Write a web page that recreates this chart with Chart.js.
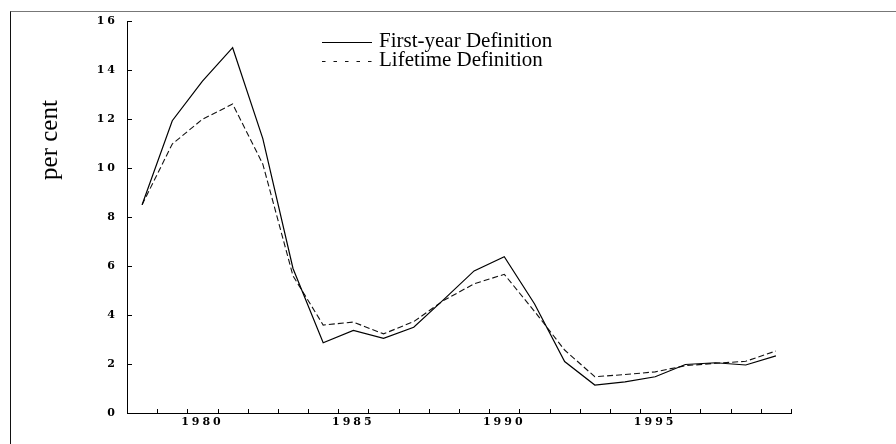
<!DOCTYPE html>
<html>
<head>
<meta charset="utf-8">
<script src="https://cdn.jsdelivr.net/npm/chart.js@4.4.1/dist/chart.umd.min.js"></script>
<style>
  html, body { margin: 0; padding: 0; background: #fff; }
  #wrap { position: relative; width: 896px; height: 444px; }
  #frame { position: absolute; left: 10px; top: 11px; right: 0; bottom: 0;
           border-left: 1px solid #111; border-top: 1px solid #777; pointer-events: none; }
  canvas { position: absolute; left: 0; top: 0; }
</style>
</head>
<body>
<div id="wrap">
  <canvas id="c" width="896" height="444"></canvas>
  <div id="frame"></div>
</div>
<script>
// ---- data ----
const years = ['1978','1979','1980','1981','1982','1983','1984','1985','1986','1987','1988',
               '1989','1990','1991','1992','1993','1994','1995','1996','1997','1998','1999'];
const firstYear = [8.5, 11.93, 13.55, 14.91, 11.2, 5.9, 2.87, 3.37, 3.05, 3.5, 4.64,
                   5.8, 6.38, 4.46, 2.1, 1.14, 1.27, 1.48, 1.98, 2.05, 1.96, 2.33];
const lifetime  = [8.5, 10.98, 11.99, 12.61, 10.16, 5.6, 3.59, 3.71, 3.23, 3.73, 4.6,
                   5.27, 5.66, 4.15, 2.57, 1.48, 1.57, 1.68, 1.93, 2.03, 2.11, 2.53];
const shownYearLabels = ['1980','1985','1990','1995'];
const yMin = 0, yMax = 16, yStep = 2;
const seriesNames = ['First-year Definition', 'Lifetime Definition'];
const yTitle = 'per cent';

const TICK_FONT = { family: 'DejaVu Serif', size: 11, weight: 'bold' };

const decorPlugin = {
  id: 'decor',
  beforeDraw(chart) {
    chart.ctx.letterSpacing = '3px';
  },
  afterDraw(chart) {
    const ctx = chart.ctx;
    ctx.save();
    ctx.letterSpacing = '0px';
    const xs = chart.scales.x, ys = chart.scales.y;
    const bottom = chart.chartArea.bottom, left = chart.chartArea.left;
    ctx.strokeStyle = '#000';
    ctx.lineWidth = 1;
    ctx.setLineDash([]);
    // inward x ticks at year boundaries
    const n = years.length;
    for (let k = 1; k <= n; k++) {
      const px = Math.round(xs.getPixelForDecimal(k / n)) + 0.5;
      ctx.beginPath(); ctx.moveTo(px, bottom); ctx.lineTo(px, bottom - 4); ctx.stroke();
    }
    // inward y ticks
    ys.ticks.forEach(t => {
      const py = Math.round(ys.getPixelForValue(t.value)) + 0.5;
      ctx.beginPath(); ctx.moveTo(left, py); ctx.lineTo(left + 5, py); ctx.stroke();
    });
    // y title
    ctx.save();
    ctx.fillStyle = '#000';
    ctx.font = '25px "Liberation Serif"';
    ctx.translate(57, 140);
    ctx.rotate(-Math.PI / 2);
    ctx.textAlign = 'center';
    ctx.textBaseline = 'alphabetic';
    ctx.fillText(yTitle, 0, 0);
    ctx.restore();
    // legend
    const ds = chart.data.datasets;
    const rows = [
      { y: 42, ty: 47, dash: [] },
      { y: 61, ty: 66, dash: [3.5, 8] }
    ];
    ctx.font = '21px "Liberation Serif"';
    ctx.textAlign = 'left';
    ctx.textBaseline = 'alphabetic';
    ctx.fillStyle = '#000';
    ds.forEach((d, i) => {
      const r = rows[i];
      ctx.strokeStyle = d.borderColor;
      ctx.lineWidth = 1.2;
      ctx.setLineDash(r.dash);
      ctx.beginPath(); ctx.moveTo(322, r.y + 0.5); ctx.lineTo(372, r.y + 0.5); ctx.stroke();
      ctx.setLineDash([]);
      ctx.fillText(d.label, 379, r.ty);
    });
    ctx.restore();
  }
};

new Chart(document.getElementById('c'), {
  type: 'line',
  data: {
    labels: years,
    datasets: [
      { label: seriesNames[0], data: firstYear, borderColor: '#000', borderWidth: 1.2,
        pointRadius: 0, tension: 0, fill: false },
      { label: seriesNames[1], data: lifetime, borderColor: '#111', borderWidth: 1.1,
        borderDash: [6, 3], pointRadius: 0, tension: 0, fill: false }
    ]
  },
  options: {
    responsive: false,
    animation: false,
    devicePixelRatio: 1,
    layout: { padding: { top: 21, right: 105, left: 0, bottom: 0 } },
    plugins: { legend: { display: false }, tooltip: { enabled: false } },
    scales: {
      x: {
        type: 'category',
        offset: true,
        grid: { display: false, drawTicks: false, offset: true },
        border: { display: true, color: '#000', width: 1 },
        ticks: {
          autoSkip: false, maxRotation: 0, minRotation: 0, padding: 3,
          color: '#000', font: TICK_FONT,
          callback: function (v) {
            const lab = this.getLabelForValue(v);
            return shownYearLabels.includes(lab) ? lab : '';
          }
        },
        afterFit: s => { s.height = 31; }
      },
      y: {
        min: yMin, max: yMax,
        grid: { display: false, drawTicks: false },
        border: { display: true, color: '#000', width: 1 },
        ticks: { stepSize: yStep, padding: 9, color: '#000', font: TICK_FONT },
        afterFit: s => { s.width = 127; }
      }
    }
  },
  plugins: [decorPlugin]
});
</script>
</body>
</html>
